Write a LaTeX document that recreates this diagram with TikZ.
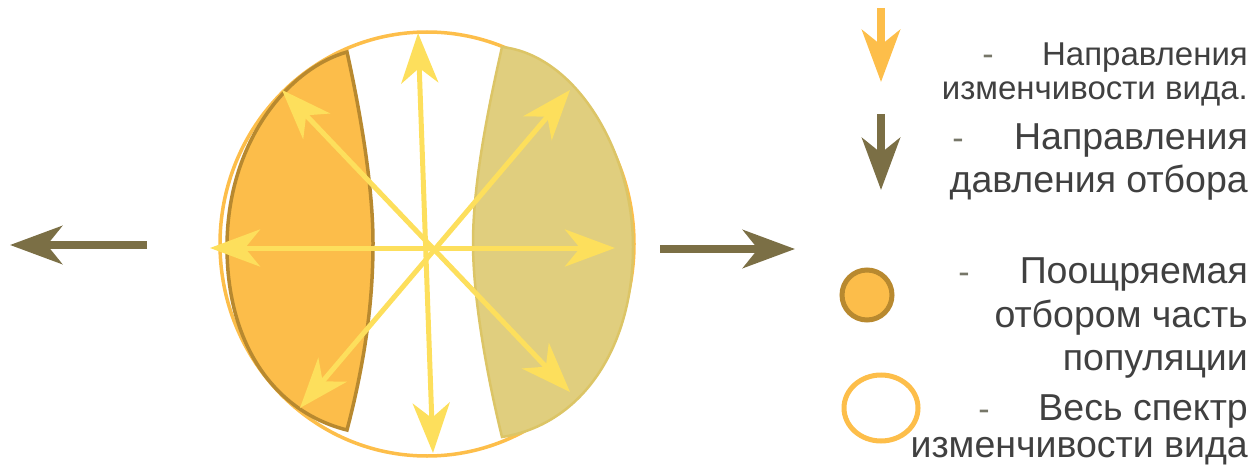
\documentclass[tikz,border=0pt]{standalone}
\usepackage{fontspec}
\setmainfont{Liberation Sans}
\usetikzlibrary{arrows.meta}

\definecolor{spectrum}{HTML}{FDBE4A}
\definecolor{favoured}{HTML}{FCBD4A}
\definecolor{favouredline}{HTML}{B8892F}
\definecolor{khaki}{HTML}{E0CE7E}
\definecolor{khakiline}{HTML}{DCC566}
\definecolor{variation}{HTML}{FDDF5C}
\definecolor{pressure}{HTML}{7B6F45}
\definecolor{legendtext}{HTML}{404040}
\definecolor{dashgray}{HTML}{767668}

\tikzset{
  varhead/.tip={Stealth[length=50pt, width=37pt, inset=15pt]},
  presshead/.tip={Stealth[length=52pt, width=38pt, inset=15pt]},
}

\begin{document}
\begin{tikzpicture}[
  x=1pt, y=-1pt,
  vararrow/.style={variation, line width=5pt, varhead-varhead},
  pressarrow/.style={pressure, line width=8pt, -presshead},
  keyarrow/.style={line width=8pt, -presshead},
  txt/.style={anchor=base east, inner sep=0pt, text=legendtext,
    font=\fontsize{37.5}{42}\selectfont},
  txtsmall/.style={txt, font=\fontsize{33}{38}\selectfont},
  hyph/.style={anchor=base, inner sep=0pt, text=dashgray,
    font=\fontsize{34}{38}\selectfont},
]
\useasboundingbox (0,0) rectangle (1255,465);

% whole spectrum of variation
\draw[spectrum, line width=3.5pt] (427,244) ellipse [x radius=207, y radius=212];

% part of the population favoured by selection (left)
\filldraw[fill=favoured, draw=favouredline, line width=3.5pt]
  (347,52) .. controls (290,68) and (227,140) .. (227,247)
  .. controls (227,345) and (275,412) .. (347,430)
  .. controls (368,350) and (373,290) .. (373,243)
  .. controls (373,190) and (362,120) .. (347,52) -- cycle;

% opposite side (right)
\filldraw[fill=khaki, draw=khakiline, line width=2.5pt]
  (502,47) .. controls (575,55) and (633,150) .. (633,247)
  .. controls (633,350) and (580,425) .. (502,437)
  .. controls (488,380) and (473,300) .. (473,243)
  .. controls (473,180) and (490,100) .. (502,47) -- cycle;

% directions of variation
\coordinate (vN) at (418,33);
\coordinate (vS) at (433,453);
\coordinate (vW) at (210,248);
\coordinate (vE) at (615,248);
\coordinate (vNW) at (282,90);
\coordinate (vSE) at (570,392);
\coordinate (vNE) at (570,90);
\coordinate (vSW) at (300,408);
\draw[vararrow] (vS) -- (vN);
\draw[vararrow] (vW) -- (vE);
\draw[vararrow] (vSE) -- (vNW);
\draw[vararrow] (vSW) -- (vNE);

% selection pressure
\coordinate (pLtail) at (147,245);
\coordinate (pLtip) at (10,245);
\coordinate (pRtail) at (660,249);
\coordinate (pRtip) at (795,249);
\draw[pressarrow] (pLtail) -- (pLtip);
\draw[pressarrow] (pRtail) -- (pRtip);

% legend symbols
\coordinate (k1top) at (881,8);
\coordinate (k1tip) at (881,82);
\coordinate (k2top) at (881,114);
\coordinate (k2tip) at (881,190);
\draw[keyarrow, spectrum] (k1top) -- (k1tip);
\draw[keyarrow, pressure] (k2top) -- (k2tip);
\filldraw[fill=favoured, draw=favouredline, line width=5pt]
  (867,295) circle [radius=25];
\draw[spectrum, line width=5pt] (881,408) ellipse [x radius=37, y radius=33];

% legend text
\node[hyph] (d1) at (988,66) {-};
\node[txtsmall] (v1) at (1248,66) {Направления};
\node[txtsmall] (v2) at (1248,100) {изменчивости вида.};
\node[hyph] (d2) at (958,150) {-};
\node[txt] (p1) at (1248,150) {Направления};
\node[txt] (p2) at (1248,193) {давления отбора};
\node[hyph] (d3) at (964,283) {-};
\node[txt] (f1) at (1248,283) {Поощряемая};
\node[txt] (f2) at (1248,327) {отбором часть};
\node[txt] (f3) at (1248,370) {популяции};
\node[hyph] (d4) at (984,420) {-};
\node[txt] (s1) at (1248,420) {Весь спектр};
\node[txt] (s2) at (1248,457) {изменчивости вида};

\end{tikzpicture}
\end{document}
